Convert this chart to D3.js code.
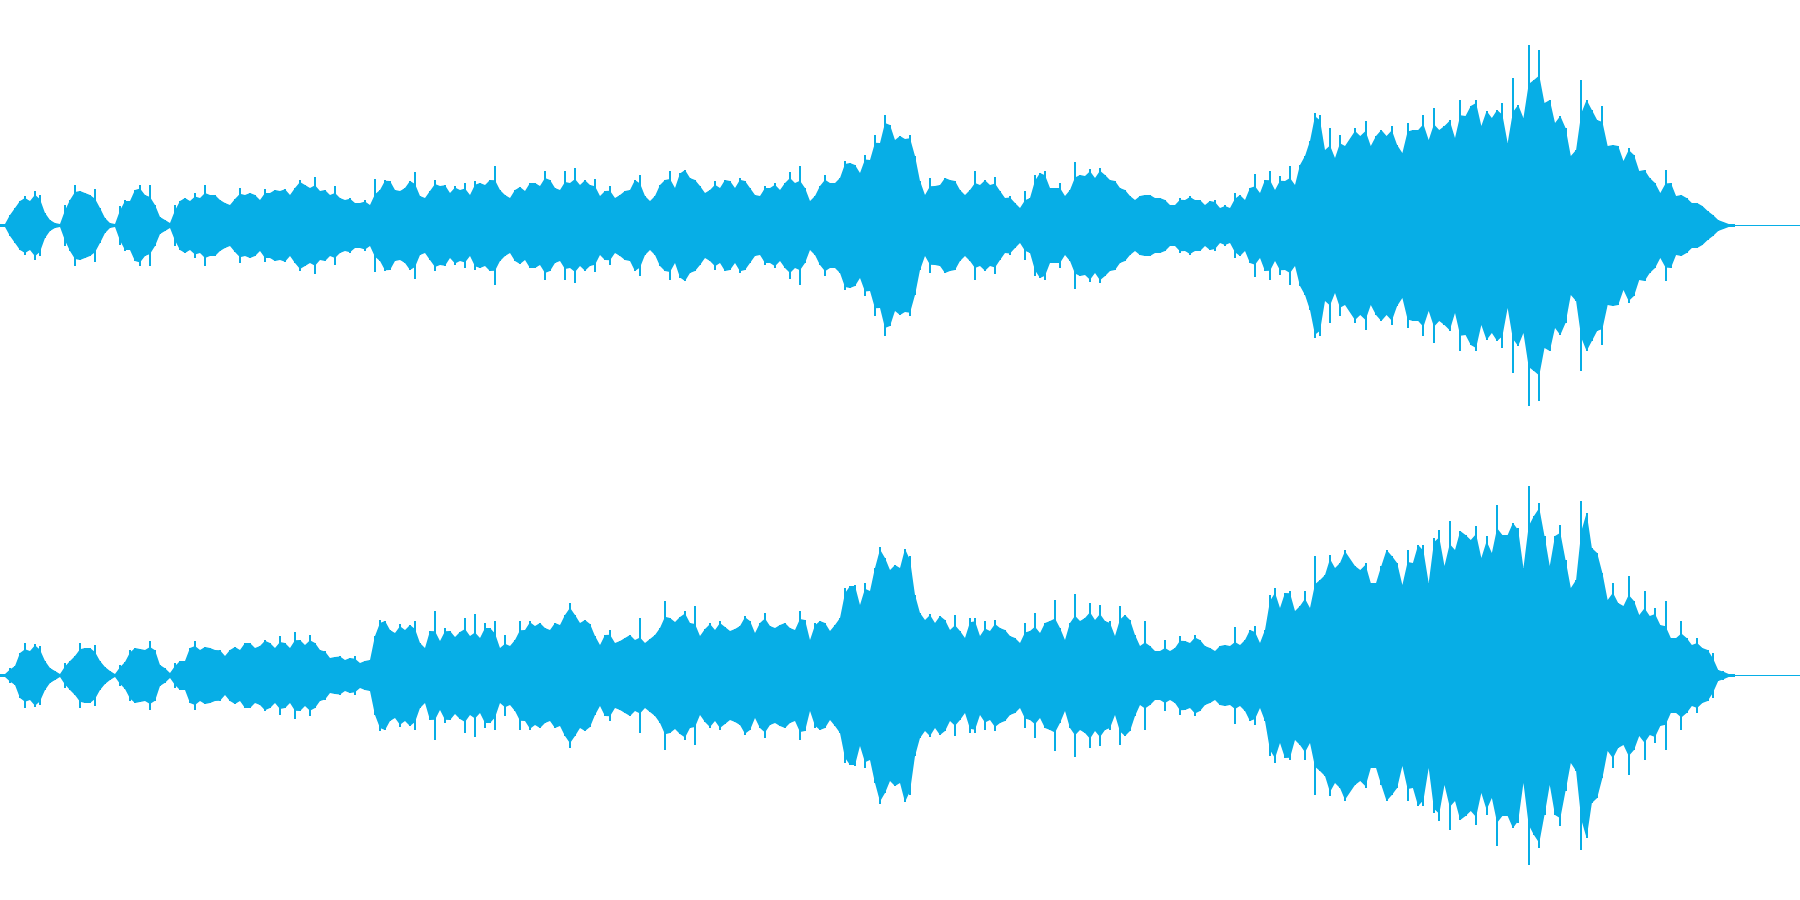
<!DOCTYPE html>
<html><head><meta charset="utf-8">
<style>html,body{margin:0;padding:0;background:#fff;overflow:hidden}svg{display:block}</style>
<script src="https://cdn.jsdelivr.net/npm/d3@7/dist/d3.min.js"></script>
</head><body><svg id="c" width="1800" height="900"></svg>
<script>
// Peak amplitude per analysis window (full scale = 225), mirrored about each channel's zero line
const channelA = [
1,1,10,17,24,29,24,34,30,12,5,2,1,20,25,40,34,32,30,36,17,7,2,1,19,25,24,35,40,30,40,20,8,5,2,20,24,27,24,32,27,40,30,30,25,22,20,26,37,30,32,30,25,36,32,35,34,36,30,37,45,40,37,48,34,35,30,39,27,25,27,22,22,25,20,46,35,45,44,35,34,37,44,53,29,27,34,45,39,40,
32,39,35,42,30,44,42,40,45,59,35,30,27,35,38,34,42,42,39,54,45,37,35,54,42,57,40,45,40,46,29,34,39,27,30,34,35,45,50,29,24,29,40,45,54,37,52,55,47,45,39,32,35,44,37,45,44,37,47,44,37,30,29,39,37,42,35,42,53,42,59,37,24,29,39,50,42,42,47,64,62,60,52,70,65,90,82,110,100,85,
89,86,90,69,44,30,47,39,40,47,45,44,35,30,35,54,40,45,40,48,34,27,29,22,17,34,27,50,52,54,37,37,42,29,35,63,50,49,56,47,57,50,45,44,37,35,29,25,29,30,30,27,27,25,20,20,27,25,29,25,25,20,24,25,17,20,17,32,30,25,37,51,32,45,54,35,49,44,59,40,60,69,84,112,110,75,97,67,90,79,
97,89,104,79,89,95,89,99,80,72,102,95,95,110,85,117,95,99,105,87,125,109,119,125,99,114,107,115,122,82,147,120,107,180,145,175,122,125,102,109,97,69,75,145,125,115,105,119,79,80,79,64,77,70,54,55,47,42,32,55,42,29,30,27,22,22,19,14,10,5,3,1,1
];
const channelB = [
1,1,7,9,22,32,24,31,29,14,7,4,1,12,14,19,32,27,27,30,14,8,4,1,10,13,25,27,26,25,34,25,10,7,2,12,14,14,27,34,25,28,27,25,25,19,25,28,25,32,32,27,29,35,32,27,39,32,27,43,35,30,40,32,25,24,17,18,19,15,17,19,12,14,15,39,55,54,45,42,51,45,50,54,32,27,44,64,34,47,
44,38,43,57,39,61,37,52,47,54,27,40,29,35,54,45,54,49,52,47,45,52,50,60,72,60,52,55,51,39,30,40,45,32,34,37,40,35,57,32,36,40,47,74,57,53,58,64,52,69,39,46,52,45,54,48,44,46,49,59,54,42,52,62,49,47,50,52,47,45,64,55,35,52,54,52,44,50,57,87,89,90,70,92,84,107,128,117,105,110,
107,126,119,80,62,55,61,52,59,55,45,60,44,37,57,57,39,54,44,55,47,45,39,37,32,52,44,62,42,52,54,75,47,35,52,81,54,57,72,55,70,54,54,39,69,60,55,40,29,54,29,24,24,35,24,27,39,34,32,40,35,29,27,24,29,30,29,48,30,35,45,49,32,45,80,87,67,82,84,64,69,84,67,119,95,100,120,107,112,125,
109,105,112,92,92,109,125,119,112,90,125,112,130,130,92,137,145,109,154,125,144,140,135,149,117,139,122,170,140,140,152,147,107,189,159,172,139,109,139,150,115,87,95,174,162,127,122,102,75,92,72,69,99,74,60,84,59,67,50,74,37,37,54,37,30,37,27,25,22,5,4,1,1
];
const channels = [channelA, channelB];
const fullScale = 225;
// window index at the start of the last section, and the last window
const lastSectionStart = 270, lastWindow = 342;

const width = 1800, channelHeight = 450;
const colour = "#07aee6";
const svg = d3.select("#c");
// the last section was read at a slightly wider window spacing
const x = d3.scaleLinear().domain([0, lastSectionStart - 1, lastSectionStart, lastWindow]).range([0, 1345, 1355, 1734]);
const y = d3.scaleLinear().domain([fullScale, -fullScale]).range([0, channelHeight]);

channels.forEach((values, c) => {
  const g = svg.append("g").attr("transform", `translate(0,${c * channelHeight})`).attr("fill", colour);
  // silence line along the zero level
  g.append("rect").attr("x", 0).attr("width", width).attr("y", y(0)).attr("height", 1).attr("shape-rendering", "crispEdges");
  // body of the waveform: each window limited by a little over the mean of its neighbours
  const body = values.map((v, i) => Math.min(v, 1.12 * d3.mean([values[i-1] ?? v, values[i+1] ?? v])));
  const area = d3.area().x((d, i) => x(i)).y0(d => y(-d) + 1).y1(d => y(d));
  g.append("path").attr("d", area(body));
  // peak of each window: a thin stroke
  g.selectAll("rect.peak").data(values).join("rect").attr("class", "peak").attr("shape-rendering", "crispEdges")
    .attr("x", (d, i) => x(i) - 1).attr("width", 2)
    .attr("y", d => y(d)).attr("height", d => y(-d) - y(d) + 1);
});
</script></body></html>
